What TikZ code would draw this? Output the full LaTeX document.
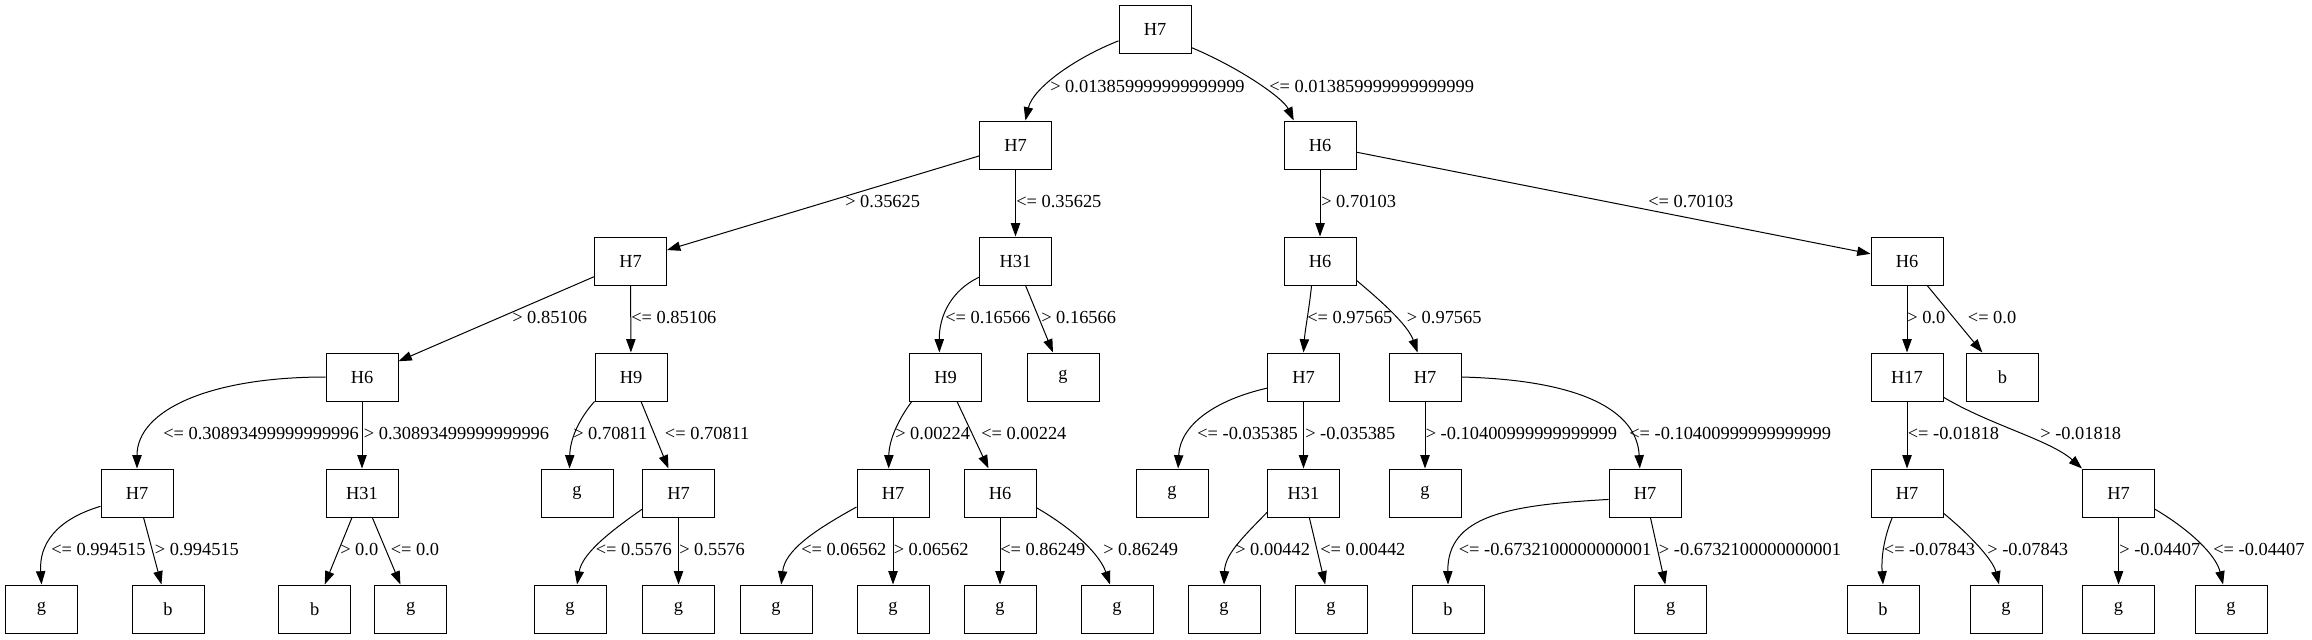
\documentclass[tikz,border=0pt]{standalone}
\usepackage{fontspec}
\setmainfont{Liberation Serif}
\usetikzlibrary{arrows.meta}
\begin{document}
\begin{tikzpicture}[x=0.75pt,y=-0.75pt,
  box/.style={draw,line width=0.75pt,minimum width=54pt,minimum height=36pt,inner sep=0pt,font=\fontsize{13.8}{16}\selectfont},
  lab/.style={anchor=west,inner sep=0pt,font=\fontsize{13.8}{16}\selectfont},
  edge/.style={draw,line width=0.75pt,-{Triangle[length=10pt,width=7pt]}}]
\useasboundingbox (0,0) rectangle (2312,639);
% level 0-2
\node[box] (r) at (1155,29) {H7};
\node[box] (a) at (1015.5,145) {H7};
\node[box] (b) at (1320,145) {H6};
\node[box] (c) at (630.5,261) {H7};
\node[box] (d) at (1015.5,261) {H31};
\node[box] (e) at (1320,261) {H6};
\node[box] (f) at (1907,261) {H6};
% level 3
\node[box] (g1) at (362,377) {H6};
\node[box] (g2) at (631,377) {H9};
\node[box] (g3) at (945.5,377) {H9};
\node[box] (g4) at (1063,377) {g};
\node[box] (g5) at (1303.5,377) {H7};
\node[box] (g6) at (1425,377) {H7};
\node[box] (g7) at (1907,377) {H17};
\node[box] (g8) at (2002.5,377) {b};
% level 4
\node[box] (h1) at (137,493) {H7};
\node[box] (h2) at (362,493) {H31};
\node[box] (h3) at (577,493) {g};
\node[box] (h4) at (678.5,493) {H7};
\node[box] (h5) at (893,493) {H7};
\node[box] (h6) at (1000,493) {H6};
\node[box] (h7) at (1172,493) {g};
\node[box] (h8) at (1303.5,493) {H31};
\node[box] (h9) at (1425,493) {g};
\node[box] (h10) at (1645,493) {H7};
\node[box] (h11) at (1907,493) {H7};
\node[box] (h12) at (2118.5,493) {H7};
% level 5
\node[box] (k1) at (41.5,609) {g};
\node[box] (k2) at (168,609) {b};
\node[box] (k3) at (314.7,609) {b};
\node[box] (k4) at (410.7,609) {g};
\node[box] (k5) at (570,609) {g};
\node[box] (k6) at (678.5,609) {g};
\node[box] (k7) at (776,609) {g};
\node[box] (k8) at (893,609) {g};
\node[box] (k9) at (1000,609) {g};
\node[box] (k10) at (1117,609) {g};
\node[box] (k11) at (1224,609) {g};
\node[box] (k12) at (1331,609) {g};
\node[box] (k13) at (1448,609) {b};
\node[box] (k14) at (1670.7,609) {g};
\node[box] (k15) at (1883,609) {b};
\node[box] (k16) at (2006,609) {g};
\node[box] (k17) at (2118.5,609) {g};
\node[box] (k18) at (2231,609) {g};
% edges level 0-1
\draw[edge] (r.198) .. controls (1075,58) and (1033,88) .. (a.68);
\draw[edge] (r.-27) .. controls (1240,68) and (1283,98) .. (b.137);
% level 1-2
\draw[edge] (a) -- (c);
\draw[edge] (a) -- (d);
\draw[edge] (b) -- (e);
\draw[edge] (b) -- (f);
% level 2-3
\draw[edge] (c) -- (g1);
\draw[edge] (c) -- (g2);
\draw[edge] (d.204) .. controls (952,290) and (939,315) .. (g3.104);
\draw[edge] (d) -- (g4);
\draw[edge] (e.-109) .. controls (1309,310) and (1305,330) .. (g5.north);
\draw[edge] (e.-28) .. controls (1380,300) and (1408,325) .. (g6.107);
\draw[edge] (f) -- (g7);
\draw[edge] (f) -- (g8);
% level 3-4
\draw[edge] (g1.west) .. controls (210,377) and (137,410) .. (h1.north);
\draw[edge] (g1) -- (h2);
\draw[edge] (g2.south west) .. controls (578,420) and (570,440) .. (h3.107);
\draw[edge] (g2) -- (h4);
\draw[edge] (g3.-144) .. controls (898,420) and (889,440) .. (h5.100);
\draw[edge] (g3) -- (h6);
\draw[edge] (g5.197) .. controls (1215,400) and (1180,425) .. (h7.76);
\draw[edge] (g5) -- (h8);
\draw[edge] (g6) -- (h9);
\draw[edge] (g6.east) .. controls (1580,380) and (1637,410) .. (h10.102);
\draw[edge] (g7) -- (h11);
\draw[edge] (g7.-29) .. controls (1990,425) and (2050,440) .. (h12.north west);
% level 4-5
\draw[edge] (h1.200) .. controls (55,520) and (39,545) .. (k1.north);
\draw[edge] (h1) -- (k2);
\draw[edge] (h2) -- (k3);
\draw[edge] (h2) -- (k4);
\draw[edge] (h4.204) .. controls (605,535) and (582,555) .. (k5.74);
\draw[edge] (h4) -- (k6);
\draw[edge] (h5.201) .. controls (815,530) and (785,550) .. (k7.78);
\draw[edge] (h5) -- (k8);
\draw[edge] (h6) -- (k9);
\draw[edge] (h6.-22) .. controls (1075,530) and (1100,555) .. (k10.106);
\draw[edge] (h8.208) .. controls (1240,540) and (1225,555) .. (k11.north);
\draw[edge] (h8) -- (k12);
\draw[edge] (h10.190) .. controls (1510,505) and (1447,515) .. (k13.north);
\draw[edge] (h10) -- (k14);
\draw[edge] (h11.-121) .. controls (1885,535) and (1881,555) .. (k15.north);
\draw[edge] (h11.-29) .. controls (1970,535) and (1993,560) .. (k16.106);
\draw[edge] (h12) -- (k17);
\draw[edge] (h12.-24) .. controls (2190,530) and (2216,555) .. (k18.108);
% labels
\node[lab] (l01) at (1050,87) {> 0.013859999999999999};
\node[lab] (l02) at (1269,87) {<= 0.013859999999999999};
\node[lab] (l03) at (845,202) {> 0.35625};
\node[lab] (l04) at (1016,202) {<= 0.35625};
\node[lab] (l05) at (1321,202) {> 0.70103};
\node[lab] (l06) at (1648,202) {<= 0.70103};
\node[lab] (l07) at (512,318) {> 0.85106};
\node[lab] (l08) at (631,318) {<= 0.85106};
\node[lab] (l09) at (945,318) {<= 0.16566};
\node[lab] (l10) at (1041,318) {> 0.16566};
\node[lab] (l11) at (1307,318) {<= 0.97565};
\node[lab] (l12) at (1406.5,318) {> 0.97565};
\node[lab] (l13) at (1907,318) {> 0.0};
\node[lab] (l14) at (1967.6,318) {<= 0.0};
\node[lab] (l15) at (163,434) {<= 0.30893499999999996};
\node[lab] (l16) at (363.7,434) {> 0.30893499999999996};
\node[lab] (l17) at (573,434) {> 0.70811};
\node[lab] (l18) at (664.7,434) {<= 0.70811};
\node[lab] (l19) at (895,434) {> 0.00224};
\node[lab] (l20) at (981,434) {<= 0.00224};
\node[lab] (l21) at (1197,434) {<= -0.035385};
\node[lab] (l22) at (1305,434) {> -0.035385};
\node[lab] (l23) at (1425.5,434) {> -0.10400999999999999};
\node[lab] (l24) at (1629,434) {<= -0.10400999999999999};
\node[lab] (l25) at (1907.5,434) {<= -0.01818};
\node[lab] (l26) at (2040,434) {> -0.01818};
\node[lab] (l27) at (51,550) {<= 0.994515};
\node[lab] (l28) at (154.7,550) {> 0.994515};
\node[lab] (l29) at (340,550) {> 0.0};
\node[lab] (l30) at (390.5,550) {<= 0.0};
\node[lab] (l31) at (595.5,550) {<= 0.5576};
\node[lab] (l32) at (679,550) {> 0.5576};
\node[lab] (l33) at (801,550) {<= 0.06562};
\node[lab] (l34) at (893.5,550) {> 0.06562};
\node[lab] (l35) at (1000,550) {<= 0.86249};
\node[lab] (l36) at (1103,550) {> 0.86249};
\node[lab] (l37) at (1235,550) {> 0.00442};
\node[lab] (l38) at (1320,550) {<= 0.00442};
\node[lab] (l39) at (1458.5,550) {<= -0.6732100000000001};
\node[lab] (l40) at (1658.7,550) {> -0.6732100000000001};
\node[lab] (l41) at (1883.6,550) {<= -0.07843};
\node[lab] (l42) at (1987,550) {> -0.07843};
\node[lab] (l43) at (2119,550) {> -0.04407};
\node[lab] (l44) at (2213,550) {<= -0.04407};
\end{tikzpicture}
\end{document}
